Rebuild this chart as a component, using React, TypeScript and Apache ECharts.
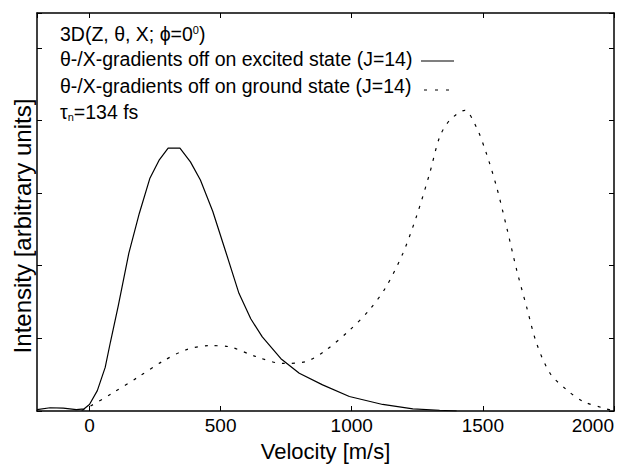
import React, { useEffect, useRef } from "react";
import * as echarts from "echarts";

// Velocity [m/s] and intensity (arbitrary units, one unit = one y tick)
const velocityExcited = [-200, -150, -100, -50, -20, 0, 30, 60, 80, 110, 150, 190, 230, 265, 300, 345, 385, 423, 470, 519, 570, 615, 659, 730, 800, 889, 991, 1118, 1233, 1335, 1400];
const intensityExcited = [0.02, 0.045, 0.04, 0.02, 0.03, 0.09, 0.28, 0.6, 0.95, 1.45, 2.17, 2.72, 3.2, 3.45, 3.62, 3.62, 3.43, 3.18, 2.75, 2.2, 1.62, 1.27, 1.02, 0.72, 0.52, 0.36, 0.2, 0.09, 0.03, 0.01, 0.0];

const velocityGround = [-30, 0, 85, 187, 277, 366, 455, 532, 634, 736, 825, 902, 991, 1067, 1131, 1195, 1246, 1297, 1335, 1373, 1431, 1475, 1514, 1552, 1590, 1629, 1667, 1705, 1756, 1820, 1883, 1960, 2000];
const intensityGround = [0.01, 0.06, 0.24, 0.47, 0.68, 0.84, 0.9, 0.885, 0.75, 0.655, 0.68, 0.84, 1.11, 1.39, 1.71, 2.17, 2.67, 3.27, 3.77, 4.0, 4.14, 3.91, 3.54, 3.09, 2.54, 1.94, 1.43, 0.93, 0.52, 0.29, 0.13, 0.04, 0.0];

const xRange = [-200, 2000];
const yRange = [0, 5.48];

const FONT = "'Liberation Sans', Arial, Helvetica, sans-serif";

export default function App() {
  const ref = useRef<HTMLDivElement>(null);

  useEffect(() => {
    if (!ref.current) return;
    const chart = echarts.init(ref.current, null, { renderer: "svg" });

    const excited = velocityExcited.map((v, i) => [v, intensityExcited[i]]);
    const ground = velocityGround.map((v, i) => [v, intensityGround[i]]);

    const axisLine = { show: true, onZero: false, lineStyle: { color: "#000", width: 1.5 } };
    const axisTick = { show: true, inside: true, length: 5, lineStyle: { color: "#000", width: 1 } };

    chart.setOption({
      animation: false,
      backgroundColor: "#fff",
      grid: { left: 37, right: 8, top: 13, bottom: 60, containLabel: false },
      xAxis: [
        {
          type: "value",
          position: "bottom",
          min: xRange[0],
          max: xRange[1],
          splitNumber: 5,
          axisLine,
          axisTick,
          splitLine: { show: false },
          axisLabel: {
            show: true,
            color: "#000",
            fontSize: 19,
            fontFamily: FONT,
            margin: 5,
            showMinLabel: false,
            alignMaxLabel: "right",
            formatter: (v: number) => String(v),
          },
          name: "Velocity [m/s]",
          nameLocation: "middle",
          nameGap: 29,
          nameTextStyle: { color: "#000", fontSize: 22, fontFamily: FONT },
        },
        {
          type: "value",
          position: "top",
          min: xRange[0],
          max: xRange[1],
          splitNumber: 5,
          axisLine,
          axisTick,
          splitLine: { show: false },
          axisLabel: { show: false },
        },
      ],
      yAxis: [
        {
          type: "value",
          position: "left",
          min: yRange[0],
          max: yRange[1],
          interval: 1,
          axisLine,
          axisTick,
          splitLine: { show: false },
          axisLabel: { show: false },
        },
        {
          type: "value",
          position: "right",
          min: yRange[0],
          max: yRange[1],
          interval: 1,
          axisLine,
          axisTick,
          splitLine: { show: false },
          axisLabel: { show: false },
        },
      ],
      series: [
        {
          name: "excited",
          type: "line",
          data: excited,
          showSymbol: false,
          smooth: false,
          lineStyle: { color: "#000", width: 1.2, type: "solid" },
          silent: true,
        },
        {
          name: "ground",
          type: "line",
          data: ground,
          showSymbol: false,
          smooth: 0.3,
          lineStyle: { color: "#000", width: 1.2, type: [3, 7] },
          silent: true,
        },
      ],
      graphic: [
        {
          type: "text",
          x: 22,
          y: 226,
          rotation: Math.PI / 2,
          style: {
            text: "Intensity [arbitrary units]",
            fill: "#000",
            fontSize: 24,
            fontFamily: FONT,
            align: "center",
            verticalAlign: "middle",
          },
        },
        {
          type: "text",
          left: 60,
          top: 24,
          style: {
            text: "3D(Z, θ, X; ϕ=0{sup|0})",
            fill: "#000",
            fontSize: 19.5,
            fontFamily: FONT,
            rich: { sup: { fontSize: 11, verticalAlign: "top", fill: "#000", fontFamily: FONT } },
          },
        },
        {
          type: "text",
          left: 60,
          top: 49,
          style: { text: "θ-/X-gradients off on excited state (J=14)", fill: "#000", fontSize: 19.5, fontFamily: FONT },
        },
        {
          type: "text",
          left: 60,
          top: 76,
          style: { text: "θ-/X-gradients off on ground state (J=14)", fill: "#000", fontSize: 19.5, fontFamily: FONT },
        },
        {
          type: "text",
          left: 60,
          top: 102,
          style: {
            text: "τ{sub|n}=134 fs",
            fill: "#000",
            fontSize: 19.5,
            fontFamily: FONT,
            rich: { sub: { fontSize: 11, verticalAlign: "bottom", fill: "#000", fontFamily: FONT } },
          },
        },
        {
          type: "line",
          shape: { x1: 421, y1: 61, x2: 454, y2: 61 },
          style: { stroke: "#000", lineWidth: 1.2 },
        },
        {
          type: "line",
          shape: { x1: 424, y1: 90, x2: 454, y2: 90 },
          style: { stroke: "#000", lineWidth: 1.2, lineDash: [3, 8] },
        },
      ],
    });

    return () => chart.dispose();
  }, []);

  return (
    <div
      ref={ref}
      style={{ position: "fixed", left: 0, top: 0, width: 622, height: 471, background: "#fff" }}
    />
  );
}
